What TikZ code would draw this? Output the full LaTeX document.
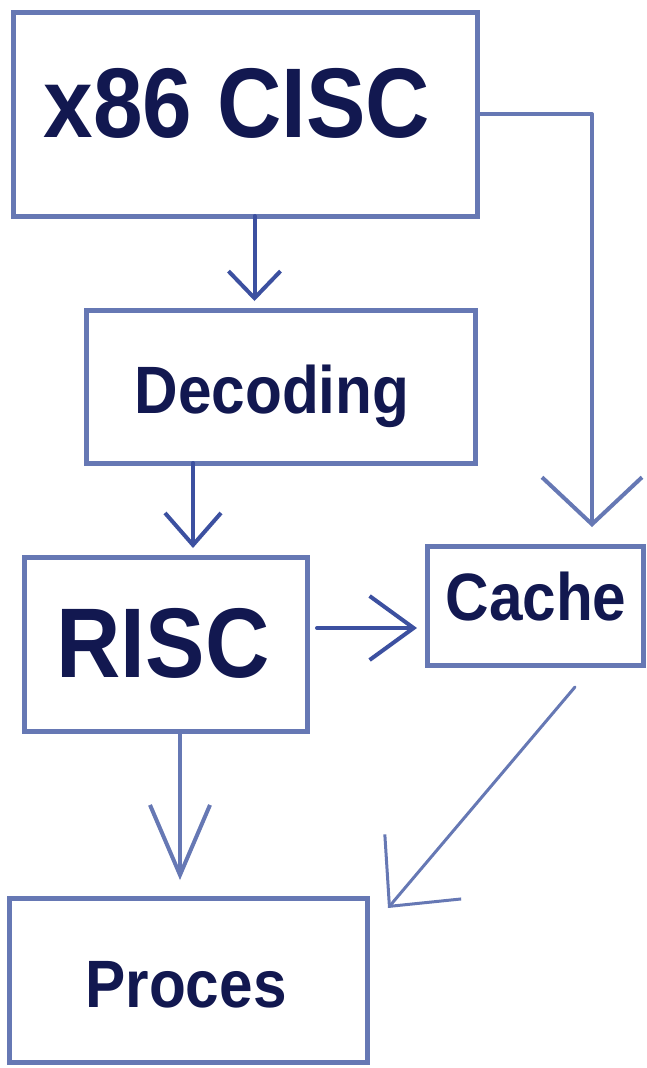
\documentclass[tikz,border=0pt]{standalone}
\usepackage{fontspec}
\setmainfont{Liberation Sans}[FakeStretch=0.9]
\usetikzlibrary{arrows.meta}

\definecolor{boxblue}{HTML}{6678B4}
\definecolor{arrowblue}{HTML}{3C50A0}
\definecolor{textnavy}{HTML}{121850}

\begin{document}
\begin{tikzpicture}[x=1bp,y=-1bp,
  boite/.style={draw=boxblue,line width=5bp,inner sep=0pt,outer sep=0pt},
  titre/.style={text=textnavy,anchor=base,inner sep=0pt,font=\bfseries\fontsize{99bp}{99bp}\selectfont},
  etiq/.style={text=textnavy,anchor=base,inner sep=0pt,font=\bfseries\fontsize{67bp}{67bp}\selectfont},
  fleche/.style={draw=arrowblue,line width=4bp,line cap=round,line join=round}]
  \useasboundingbox (0,0) rectangle (647,1068);

  % Boites
  \node[boite,minimum width=463bp,minimum height=204bp] (cisc) at (245.5,114) {};
  \node[boite,minimum width=388bp,minimum height=153bp] (dec) at (281,386.5) {};
  \node[boite,minimum width=282bp,minimum height=174bp] (risc) at (166,644) {};
  \node[boite,minimum width=216bp,minimum height=119bp] (cache) at (535,605.5) {};
  \node[boite,minimum width=357bp,minimum height=164bp] (proces) at (188.5,980) {};

  % Textes
  \node[titre] (tcisc) at (237,137) {x86 CISC};
  \node[etiq] (tdec) at (272,413) {Decoding};
  \node[titre] (trisc) at (163,677) {RISC};
  \node[etiq] (tcache) at (536,620) {Cache};
  \node[etiq] (tproces) at (186,1007) {Proces};

  % Fleches
  \draw[fleche,-{Straight Barb[length=27bp,width=52bp]},shorten >=9bp]
    ([xshift=9bp]cisc.south) -- ([xshift=9bp]cisc.south |- dec.north);
  \draw[fleche,-{Straight Barb[length=32bp,width=56bp]},shorten >=9bp]
    ([xshift=-88bp]dec.south) -- ([xshift=-88bp]dec.south |- risc.north);
  \draw[fleche,-{Straight Barb[length=44bp,width=64bp]},shorten <=10bp,shorten >=10bp]
    ([yshift=16bp]risc.east) -- ([yshift=16bp]risc.east -| cache.west);
  \draw[fleche,draw=boxblue,-{Straight Barb[length=47bp,width=100bp]},shorten >=19bp]
    (cisc.east) -| ([xshift=57bp]cache.north);
  \draw[fleche,draw=boxblue,-{Straight Barb[length=70bp,width=60bp]},shorten >=18bp]
    ([xshift=14bp]risc.south) -- ([xshift=14bp]risc.south |- proces.north);
  \draw[fleche,draw=boxblue,line width=3bp,-{Straight Barb[length=52bp,width=100bp]}]
    ([shift={(40,22)}]cache.south) -- ([shift={(21,10)}]proces.north east);
\end{tikzpicture}
\end{document}
